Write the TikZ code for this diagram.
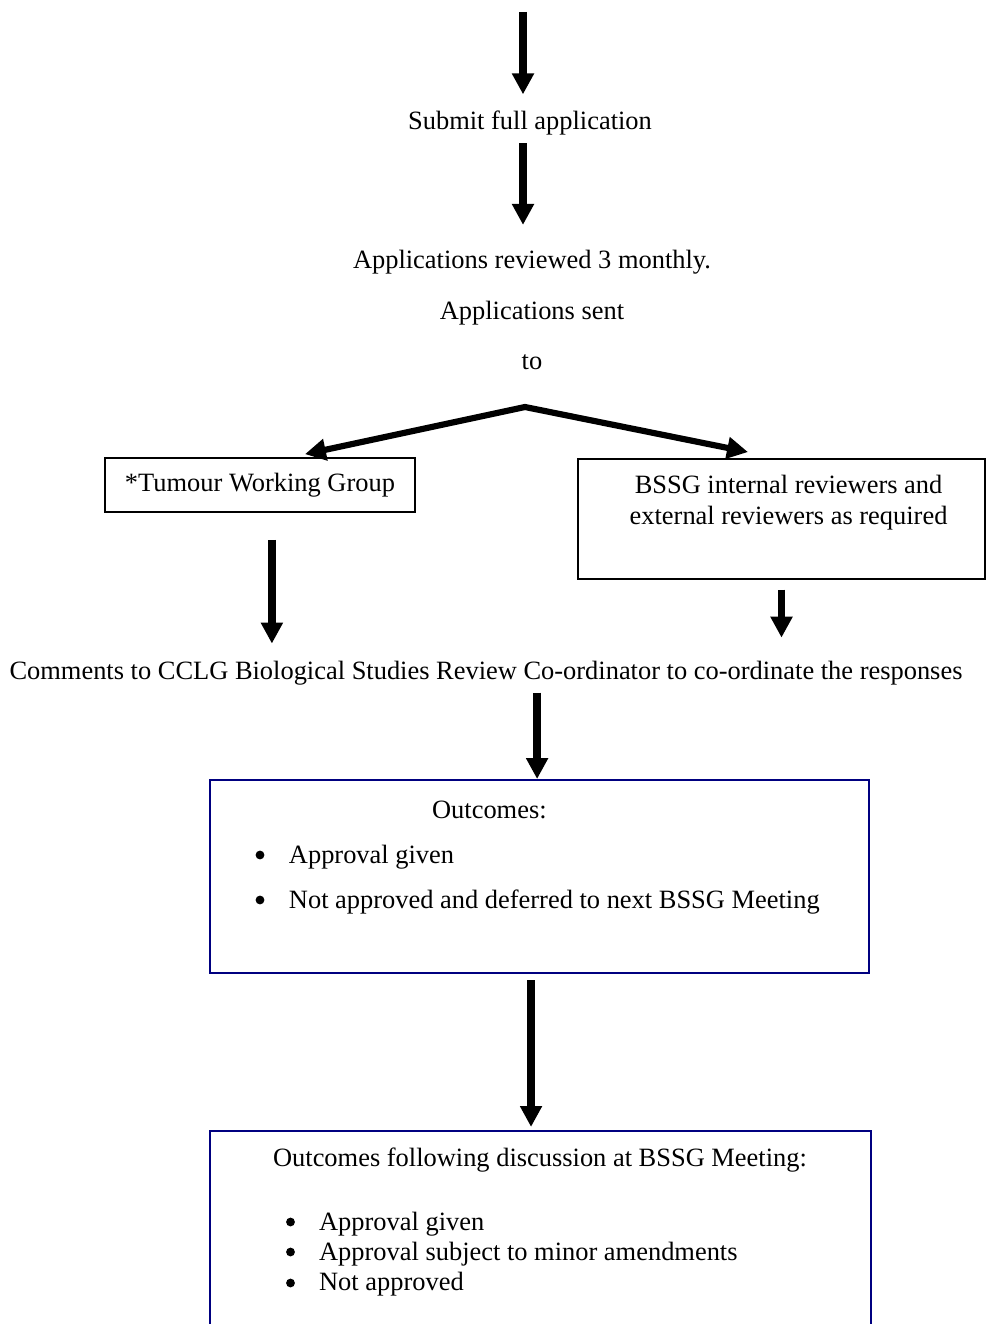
\documentclass[tikz,border=0pt]{standalone}
\usepackage{fontspec}
\setmainfont{Liberation Serif}
\usetikzlibrary{arrows.meta}
\colorlet{outcome-frame}{blue!50!black}

\newcommand{\outcomeitem}[2]{\hspace*{#1}#2}

\begin{document}
\begin{tikzpicture}[x=0.454pt,y=-0.454pt,
    every node/.style={font=\fontsize{12pt}{13.8pt}\selectfont,inner sep=0pt,
      execute at begin node={\spaceskip=3pt\xspaceskip=3pt}},
    flow/.style={line width=3.6pt,-{Triangle[width=9.5pt,length=9.5pt]}},
    branch/.style={line width=2.8pt,line join=miter,{Triangle[width=9.5pt,length=9.5pt]}-{Triangle[width=9.5pt,length=9.5pt]}},
    group box/.style={draw,line width=0.7pt},
    outcome box/.style={draw=outcome-frame,line width=1pt,anchor=north west,align=left}]
	\useasboundingbox (0,0) rectangle (990,1324);
	\clip (0,0) rectangle (990,1324);
	\coordinate (entry) at (523,12);
	\coordinate (split) at (525,407);
	\node (submit) at (530,123) {Submit full application};
	\node[anchor=north,align=center] (review) at (532,250) {Applications reviewed 3 monthly.\\[9pt]Applications sent\\[9pt]to};
	\node[group box,minimum width=140.7pt,minimum height=24.5pt] (tumour) at (260,485) {*Tumour Working Group};
	\node[group box,anchor=north,text width=184.8pt,align=flush center,text height=15.9pt,text depth=38.6pt] (bssg) at (781.5,458)
		{\spaceskip=3pt\xspaceskip=3pt\hspace*{6.4pt}BSSG internal reviewers and\\\hspace*{6.4pt}external reviewers as required};
	\node (comments) at (486,673) {Comments to CCLG Biological Studies Review Co-ordinator to co-ordinate the responses};
	% outcome boxes
	\node[outcome box,text width=299.2pt,text height=17.3pt,text depth=70.4pt] (outcomes) at (209,779)
		{\hspace*{100.8pt}Outcomes:\\[6.6pt]
		\outcomeitem{35.8pt}{Approval given}\\[6.6pt]
		\outcomeitem{35.8pt}{Not approved and deferred to next BSSG Meeting}};
	\node[outcome box,text width=300.1pt,text height=15.9pt,text depth=88.5pt] (meeting) at (209,1130)
		{\hspace*{28.6pt}Outcomes following discussion at BSSG Meeting:\\[15.2pt]
		\outcomeitem{49.5pt}{Approval given}\\
		\outcomeitem{49.5pt}{Approval subject to minor amendments}\\
		\outcomeitem{49.5pt}{Not approved}};
	% bullets
	\foreach \dy in {76,121}
		\fill ([shift={(51,\dy)}]outcomes.north west) circle (2pt);
	\foreach \dy in {92,122,153}
		\fill ([shift={(81.5,\dy)}]meeting.north west) circle (2pt);
	% arrows
	\draw[flow,shorten >=7.3pt] (entry) -- (entry |- submit.north);
	\draw[flow,shorten <=3.6pt,shorten >=11.4pt] (submit.south -| entry) -- (review.north -| entry);
	\draw[branch] ([xshift=20.4pt,yshift=1.4pt]tumour.north) -- (split) -- ([xshift=-15.2pt,yshift=2.7pt]bssg.north);
	\draw[flow,shorten <=12.3pt,shorten >=7.7pt] ([xshift=5.4pt]tumour.south) -- ([xshift=5.4pt]tumour.south |- comments.north);
	\draw[flow,shorten <=4.5pt,shorten >=10.4pt] (bssg.south) -- (bssg.south |- comments.north);
	\draw[flow,shorten <=3.2pt] ([xshift=23.2pt]comments.south) -- ([xshift=23.2pt]comments.south |- outcomes.north);
	\draw[flow,shorten <=2.7pt,shorten >=1.4pt] ([xshift=-3.9pt]outcomes.south) -- ([xshift=-3.9pt]outcomes.south |- meeting.north);
\end{tikzpicture}
\end{document}
